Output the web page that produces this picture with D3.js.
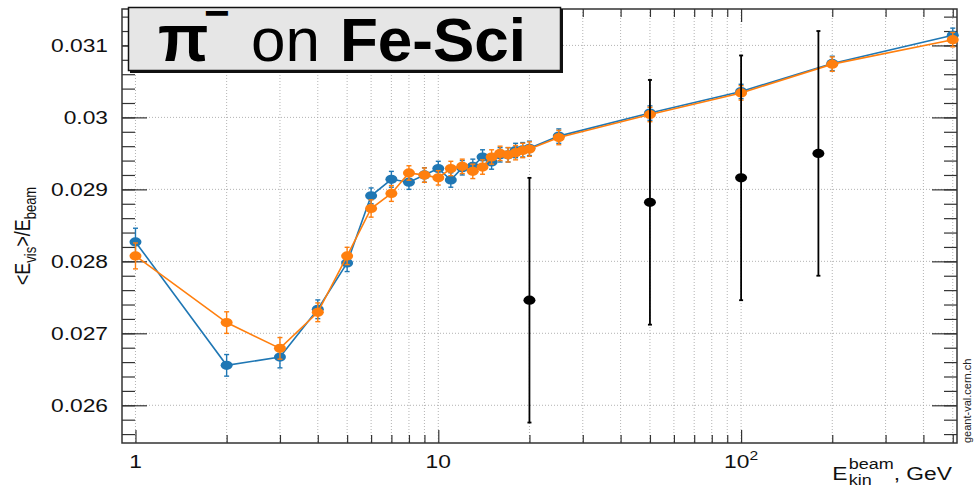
<!DOCTYPE html>
<html>
<head>
<meta charset="utf-8">
<script src="https://cdn.jsdelivr.net/npm/d3@7"></script>
<style>
  body { margin: 0; background: #fff; }
  text { font-family: "Liberation Sans", Arial, Helvetica, sans-serif; }
</style>
</head>
<body>
<div id="chart"></div>
<script>
const colors = {
  blue: "#1f77b4",
  orange: "#ff7f0e",
  data: "#000000",
  grid: "#a0a0a0",
  axis: "#333333",
  titleBox: "#e6e6e6"
};

// beam energies (GeV) for the two simulated series
const energies = [1, 2, 3, 4, 5, 6, 7, 8, 9, 10, 11, 12, 13, 14, 15, 16, 17, 18, 19, 20, 25, 50, 100, 200, 500];

// blue series
const blueVals = [0.02827, 0.026555, 0.02667, 0.027334, 0.027978, 0.02891, 0.02914, 0.02910, 0.02920, 0.02929,
  0.02913, 0.02930, 0.02932, 0.02945, 0.02938, 0.02948, 0.02948, 0.02954, 0.02955, 0.02957,
  0.02974, 0.03006, 0.03036, 0.03075, 0.03114];
const blueErr = [0.00019, 0.00015, 0.00015, 0.00013, 0.00012, 0.00011, 0.00011, 0.0001, 0.0001, 0.0001,
  0.0001, 0.0001, 0.0001, 0.0001, 0.0001, 0.0001, 0.0001, 0.0001, 0.0001, 0.0001,
  0.0001, 0.0001, 0.0001, 0.0001, 0.0001];

// orange series
const orangeVals = [0.028075, 0.027149, 0.026791, 0.027292, 0.028075, 0.028734, 0.028943, 0.029228, 0.029198, 0.02916,
  0.02929, 0.02932, 0.02925, 0.02931, 0.02945, 0.02950, 0.02948, 0.02951, 0.02954, 0.02956,
  0.02972, 0.03004, 0.03034, 0.03074, 0.03108];
const orangeErr = [0.00018, 0.00015, 0.00015, 0.00013, 0.00012, 0.00012, 0.00011, 0.0001, 0.0001, 0.0001,
  0.0001, 0.0001, 0.0001, 0.0001, 0.0001, 0.0001, 0.0001, 0.0001, 0.0001, 0.0001,
  0.0001, 0.0001, 0.0001, 0.0001, 0.0001];

// experimental points
const dataE = [20, 50, 100, 180];
const dataVals = [0.02746, 0.02882, 0.02916, 0.02950];
const dataErr = [0.0017, 0.0017, 0.0017, 0.0017];

// ticks
const yMajorTicks = [0.026, 0.027, 0.028, 0.029, 0.030, 0.031];
const xMajorTicks = [1, 10, 100];
const xMinorTicks = [2, 3, 4, 5, 6, 7, 8, 9, 20, 30, 40, 50, 60, 70, 80, 90, 200, 300, 400, 500];
const xTickLabels = [["1", ""], ["10", ""], ["10", "2"]];

// <----------------------------------------------------------------------------------->
// frame
const W = 976, H = 489;
const frame = { left: 122, right: 957, top: 9, bottom: 443 };

const svg = d3.select("#chart")
  .append("svg")
  .attr("width", W)
  .attr("height", H)
  .style("display", "block");

svg.append("rect").attr("width", W).attr("height", H).attr("fill", "#fff");

// scales
const x = d3.scaleLog()
  .domain([0.9026, 516.4])
  .range([frame.left, frame.right]);

const y = d3.scaleLinear()
  .domain([0.025476, 0.031506])
  .range([frame.bottom, frame.top]);

const yMinorTicks = d3.range(128, 158).map(i => +(i * 0.0002).toFixed(4));

// grid (dotted)
const grid = svg.append("g")
  .attr("stroke", colors.grid)
  .attr("stroke-width", 0.8)
  .attr("stroke-dasharray", "1,2");

grid.selectAll(".vgrid")
  .data(xMajorTicks.concat(xMinorTicks))
  .enter().append("line")
  .attr("x1", d => x(d)).attr("x2", d => x(d))
  .attr("y1", frame.top).attr("y2", frame.bottom);

grid.selectAll(".hgrid")
  .data(yMajorTicks)
  .enter().append("line")
  .attr("x1", frame.left).attr("x2", frame.right)
  .attr("y1", d => y(d)).attr("y2", d => y(d));

// axes ticks (both sides, pointing inwards)
function ticks(axis, tx, ty) {
  svg.append("g")
    .attr("transform", `translate(${tx},${ty})`)
    .style("color", colors.axis)
    .call(axis)
    .call(g => g.select(".domain").remove())
    .call(g => g.selectAll("text").remove())
    .call(g => g.selectAll("line").attr("stroke-width", 1.2));
}

ticks(d3.axisLeft(y).tickValues(yMinorTicks).tickSize(-13), frame.left, 0);
ticks(d3.axisLeft(y).tickValues(yMajorTicks).tickSize(-25), frame.left, 0);
ticks(d3.axisRight(y).tickValues(yMinorTicks).tickSize(-13), frame.right, 0);
ticks(d3.axisRight(y).tickValues(yMajorTicks).tickSize(-25), frame.right, 0);
ticks(d3.axisBottom(x).tickValues(xMinorTicks).tickSize(-8), 0, frame.bottom);
ticks(d3.axisBottom(x).tickValues(xMajorTicks).tickSize(-13), 0, frame.bottom);
ticks(d3.axisTop(x).tickValues(xMinorTicks).tickSize(-8), 0, frame.top);
ticks(d3.axisTop(x).tickValues(xMajorTicks).tickSize(-13), 0, frame.top);

// frame
svg.append("rect")
  .attr("x", frame.left).attr("y", frame.top)
  .attr("width", frame.right - frame.left)
  .attr("height", frame.bottom - frame.top)
  .attr("fill", "none")
  .attr("stroke", colors.axis)
  .attr("stroke-width", 1.5);

// tick labels (the canvas is a bit stretched horizontally, so are the glyphs)
const sx = 1.2;
const tickFmt = d3.format(".3~f");

svg.selectAll(".ylab")
  .data(yMajorTicks)
  .enter().append("text")
  .attr("transform", d => `translate(108,${y(d) + 6.6}) scale(${sx},1)`)
  .attr("text-anchor", "end")
  .style("font-size", "19px")
  .attr("fill", "#111")
  .text(tickFmt);

const xLabs = svg.selectAll(".xlab")
  .data(xMajorTicks)
  .enter().append("text")
  .attr("transform", d => `translate(${x(d)},468) scale(${sx},1)`)
  .attr("text-anchor", "middle")
  .style("font-size", "19px")
  .attr("fill", "#111");
xLabs.append("tspan").text((d, i) => xTickLabels[i][0]);
xLabs.append("tspan")
  .attr("dy", -8)
  .style("font-size", "13px")
  .text((d, i) => xTickLabels[i][1]);

// axis titles
const yTitle = svg.append("text")
  .attr("transform", `translate(30,236) scale(${sx},1) rotate(-90)`)
  .attr("text-anchor", "middle")
  .style("font-size", "18px")
  .attr("fill", "#111");
yTitle.append("tspan").text("<E");
yTitle.append("tspan").attr("dy", 5).style("font-size", "13px").text("vis");
yTitle.append("tspan").attr("dy", -5).text(">/E");
yTitle.append("tspan").attr("dy", 5).style("font-size", "13px").text("beam");

const xTitle = svg.append("g").attr("fill", "#111");
const eMain = xTitle.append("text").attr("x", 0).attr("y", 0).style("font-size", "19px").text("E");
const eW = eMain.node().getComputedTextLength() + 1;
const sup = xTitle.append("text").attr("x", eW).attr("y", -11).style("font-size", "15px").text("beam");
xTitle.append("text").attr("x", eW).attr("y", 5).style("font-size", "15px").text("kin");
const supW = sup.node().getComputedTextLength();
const unit = xTitle.append("text").attr("x", eW + supW).attr("y", 0).style("font-size", "19px").text(", GeV");
const totalW = eW + supW + unit.node().getComputedTextLength();
xTitle.attr("transform", `translate(${952 - totalW * sx},480) scale(${sx},1)`);

// watermark
svg.append("text")
  .attr("transform", "translate(971,443) rotate(-90)")
  .style("font-size", "11px")
  .attr("fill", "#222")
  .text("geant-val.cern.ch");

// series
const plot = svg.append("g");

function drawSeries(xs, vals, errs, color, opts) {
  const pts = xs.map((e, i) => ({ e: e, v: vals[i], err: errs[i] }));
  if (opts.line) {
    plot.append("path")
      .datum(pts)
      .attr("fill", "none")
      .attr("stroke", color)
      .attr("stroke-width", 1.6)
      .attr("d", d3.line().x(d => x(d.e)).y(d => y(d.v)));
  }
  const g = plot.append("g").attr("stroke", color).attr("stroke-width", opts.errWidth);
  g.selectAll(".eb")
    .data(pts).enter().append("line")
    .attr("x1", d => x(d.e)).attr("x2", d => x(d.e))
    .attr("y1", d => y(d.v - d.err)).attr("y2", d => y(d.v + d.err));
  g.selectAll(".capTop")
    .data(pts).enter().append("line")
    .attr("x1", d => x(d.e) - opts.cap).attr("x2", d => x(d.e) + opts.cap)
    .attr("y1", d => y(d.v + d.err)).attr("y2", d => y(d.v + d.err));
  g.selectAll(".capBot")
    .data(pts).enter().append("line")
    .attr("x1", d => x(d.e) - opts.cap).attr("x2", d => x(d.e) + opts.cap)
    .attr("y1", d => y(d.v - d.err)).attr("y2", d => y(d.v - d.err));
  plot.append("g").selectAll("ellipse")
    .data(pts).enter().append("ellipse")
    .attr("cx", d => x(d.e))
    .attr("cy", d => y(d.v))
    .attr("rx", 6)
    .attr("ry", 4.6)
    .attr("fill", color);
}

drawSeries(energies, blueVals, blueErr, colors.blue, { line: true, errWidth: 1.4, cap: 2.5 });
drawSeries(energies, orangeVals, orangeErr, colors.orange, { line: true, errWidth: 1.4, cap: 2.5 });
drawSeries(dataE, dataVals, dataErr, colors.data, { line: false, errWidth: 1.8, cap: 2 });

// title box
svg.append("rect")
  .attr("x", 130).attr("y", 9)
  .attr("width", 433).attr("height", 64)
  .attr("fill", "#111");
svg.append("rect")
  .attr("x", 128.5).attr("y", 7.5)
  .attr("width", 432).attr("height", 63)
  .attr("fill", colors.titleBox)
  .attr("stroke", "#111")
  .attr("stroke-width", 1.5);

const titleSize = 62;
const pi = svg.append("text")
  .attr("x", 158).attr("y", 61)
  .style("font-size", "66px").style("font-weight", "bold");
pi.append("tspan").text("π");
pi.append("tspan")
  .attr("x", 204).attr("dy", -33)
  .style("font-size", "44px")
  .text("−");
svg.append("text")
  .attr("x", 251).attr("y", 61)
  .style("font-size", titleSize + "px")
  .text("on");
svg.append("text")
  .attr("x", 340).attr("y", 61)
  .style("font-size", titleSize + "px").style("font-weight", "bold")
  .text("Fe-Sci");
</script>
</body>
</html>
